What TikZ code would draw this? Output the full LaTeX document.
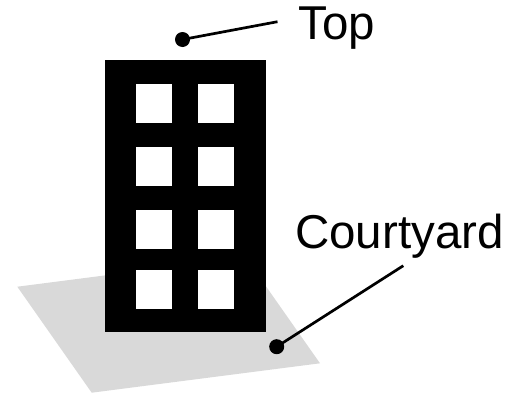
\documentclass[tikz,border=0pt]{standalone}
\usepackage{fontspec}
\setmainfont{Liberation Sans}
\usetikzlibrary{positioning}
\definecolor{groundcolor}{RGB}{217,217,217}
\tikzset{
  pin dot/.style={circle,fill=black,inner sep=0pt,minimum size=15pt},
  pin line/.style={black,line width=2.7pt},
  label text/.style={inner sep=0pt,anchor=base west,font=\fontsize{47.5}{52}\selectfont}
}

\begin{document}
\begin{tikzpicture}[x=1pt,y=-1pt]
        \useasboundingbox (0,0) rectangle (514,394);
        % draw courtyard
        \fill[groundcolor] (17.3,286.7) -- (91.7,392.7) -- (320,363.3) -- (245.6,257.3) -- cycle;

        % draw building
        \fill[black] (105,60) rectangle (266,332);
        \foreach \y in {84,147,210,270} {
            \foreach \x in {136,198} {
                \fill[white] (\x,\y) rectangle ++(36,39);
            }
        }

        % top label
        \node[pin dot] (topdot) at (182.5,39.5) {};
        \coordinate (topend) at (277.5,21.7);
        \draw[pin line] (topdot.center) -- (topend);
        \node[label text] (toplabel) at (298.5,39.5) {Top};

        % courtyard label
        \node[pin dot] (yarddot) at (276.7,346.7) {};
        \coordinate (yardend) at (403.3,265.7);
        \draw[pin line] (yarddot.center) -- (yardend);
        \node[label text] (yardlabel) at (295,248) {Courtyard};
    \end{tikzpicture}
\end{document}
